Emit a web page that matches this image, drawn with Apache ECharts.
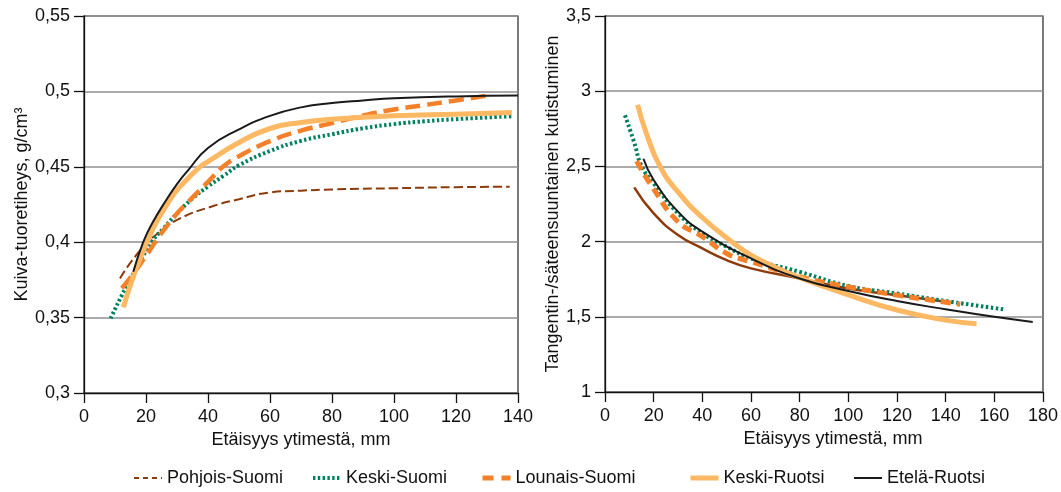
<!DOCTYPE html>
<html><head><meta charset="utf-8">
<script src="https://cdn.jsdelivr.net/npm/echarts@6/dist/echarts.min.js"></script>
<style>html,body{margin:0;padding:0;background:#fff}#c{width:1061px;height:492px}</style>
</head><body><div id="c"></div>
<script>
// ---- data ----
const seriesNames = ['Pohjois-Suomi', 'Keski-Suomi', 'Lounais-Suomi', 'Keski-Ruotsi', 'Etelä-Ruotsi'];
const xTitle = 'Etäisyys ytimestä, mm';
const leftYTitle = 'Kuiva-tuoretiheys, g/cm³';
const rightYTitle = 'Tangentin-/säteensuuntainen kutistuminen';

// left panel: density [distance mm, g/cm3]
const densPohjois = [[11.6,0.376],[18.1,0.3946],[24.5,0.407],[31,0.4158],[41.7,0.424],[50,0.4285],[60,0.433],[70,0.4342],[80,0.435],[100,0.4358],[120,0.4365],[137.3,0.4368]];
const densKeskiSuomi = [[8.6,0.3495],[14.8,0.375],[21.8,0.4],[25.6,0.409],[30,0.419],[35,0.429],[40,0.437],[45,0.444],[50,0.451],[60,0.4605],[70,0.4672],[80,0.4716],[90,0.4755],[100,0.4783],[110,0.4802],[120,0.4816],[138,0.4835]];
const densLounais = [[12.2,0.3694],[15.4,0.3776],[20,0.391],[25,0.406],[30,0.419],[34.2,0.428],[40,0.440],[44.8,0.45],[50,0.457],[60,0.467],[70,0.474],[80,0.479],[90,0.484],[100,0.488],[110,0.491],[120,0.494],[131,0.4975]];
const densKeskiRuotsi = [[12.7,0.3568],[20.2,0.3996],[27.7,0.428],[32,0.439],[37.4,0.45],[40,0.4535],[50,0.4661],[60,0.4754],[70,0.4794],[80,0.4816],[100,0.4838],[120,0.4849],[138,0.486]];
const densEtela = [[15.9,0.3804],[19.1,0.4],[22,0.4125],[26.7,0.4285],[30,0.4385],[33.5,0.4475],[40,0.4625],[50,0.4748],[60,0.4838],[70,0.4894],[80,0.4923],[90,0.494],[100,0.4954],[120,0.4967],[140,0.4972]];

// right panel: shrinkage ratio [distance mm, ratio]
const shrPohjois = [[12,2.361],[20,2.188],[30,2.044],[40,1.955],[50,1.877],[60,1.822],[80,1.755],[100,1.688],[120,1.644],[140,1.60]];
const shrKeskiSuomi = [[8.2,2.84],[12,2.66],[15.1,2.5],[20,2.388],[30,2.188],[40,2.055],[50,1.966],[60,1.888],[80,1.799],[100,1.705],[120,1.655],[140,1.605],[164.4,1.548]];
const shrLounais = [[13,2.535],[19.2,2.369],[30,2.132],[39.7,2.036],[50,1.921],[56.8,1.88],[60,1.866],[80,1.766],[100,1.699],[120,1.644],[146,1.584]];
const shrKeskiRuotsi = [[13.4,2.91],[17,2.72],[22.6,2.5],[30,2.33],[40,2.16],[52,2.0],[60,1.91],[70,1.83],[80,1.76],[100,1.645],[120,1.545],[140,1.478],[152.7,1.453]];
const shrEtela = [[15.8,2.551],[20,2.41],[30,2.199],[40,2.066],[60,1.888],[80,1.755],[100,1.672],[120,1.605],[140,1.55],[160,1.5],[175.8,1.466]];

const leftXTicks = {min: 0, max: 140, interval: 20};
const rightXTicks = {min: 0, max: 180, interval: 20};
const leftYTicks = {min: 0.3, max: 0.55, interval: 0.05};
const rightYTicks = {min: 1, max: 3.5, interval: 0.5};

// ---- styles ----
const FONT = "'Liberation Sans', Arial, sans-serif";
const FS = 18;
const colors = {
  'Pohjois-Suomi': '#8E3B0B',
  'Keski-Suomi': '#00805E',
  'Lounais-Suomi': '#F4812A',
  'Keski-Ruotsi': '#FDB863',
  'Etelä-Ruotsi': '#1a1a1a'
};
const leftStyles = {
  'Pohjois-Suomi': {width: 2, type: [9, 4]},
  'Keski-Suomi': {width: 4, type: [2.4, 2.4]},
  'Lounais-Suomi': {width: 4.5, type: [15, 7]},
  'Keski-Ruotsi': {width: 5, type: 'solid'},
  'Etelä-Ruotsi': {width: 2, type: 'solid'}
};
const rightStyles = {
  'Pohjois-Suomi': {width: 2.5, type: 'solid'},
  'Keski-Suomi': {width: 4, type: [2.5, 2.5]},
  'Lounais-Suomi': {width: 5, type: [10, 6]},
  'Keski-Ruotsi': {width: 5, type: 'solid'},
  'Etelä-Ruotsi': {width: 2, type: 'solid'}
};
const leftData = [densPohjois, densKeskiSuomi, densLounais, densKeskiRuotsi, densEtela];
const rightData = [shrPohjois, shrKeskiSuomi, shrLounais, shrKeskiRuotsi, shrEtela];

function fmt(v) { return String(Math.round(v * 100) / 100).replace('.', ','); }

function xAxis(idx, ticks, extraPad) {
  return {
    type: 'value', gridIndex: idx, min: ticks.min, max: ticks.max, interval: ticks.interval,
    name: xTitle, nameLocation: 'middle', nameGap: 36,
    nameTextStyle: {fontFamily: FONT, fontSize: FS, color: '#111', padding: extraPad || 0},
    axisLine: {show: true, onZero: false, lineStyle: {color: '#111', width: 1.3}},
    axisTick: {show: true, inside: false, length: 10, lineStyle: {color: '#111', width: 1.3}},
    axisLabel: {margin: 15, fontFamily: FONT, fontSize: FS, color: '#111', formatter: fmt},
    splitLine: {show: false}
  };
}
function yAxis(idx, ticks, name, gap) {
  return {
    type: 'value', gridIndex: idx, min: ticks.min, max: ticks.max, interval: ticks.interval,
    name: name, nameLocation: 'middle', nameGap: gap,
    nameTextStyle: {fontFamily: FONT, fontSize: FS, color: '#111'},
    axisLine: {show: true, onZero: false, lineStyle: {color: '#111', width: 1.3}},
    axisTick: {show: true, inside: false, length: 10, lineStyle: {color: '#111', width: 1.3}},
    axisLabel: {margin: 14, fontFamily: FONT, fontSize: FS, color: '#111', formatter: fmt},
    splitLine: {show: true, lineStyle: {color: '#8f8f8f', width: 1.5}}
  };
}

const series = [];
seriesNames.forEach((n, i) => {
  series.push({
    name: n, type: 'line', xAxisIndex: 0, yAxisIndex: 0, data: leftData[i],
    symbol: 'none', smooth: 0.5, z: 2 + i,
    lineStyle: {color: colors[n], width: leftStyles[n].width, type: leftStyles[n].type, cap: 'butt'},
    itemStyle: {color: colors[n]}
  });
});
seriesNames.forEach((n, i) => {
  series.push({
    name: n, type: 'line', xAxisIndex: 1, yAxisIndex: 1, data: rightData[i],
    symbol: 'none', smooth: 0.5, z: 2 + i,
    lineStyle: {color: colors[n], width: rightStyles[n].width, type: rightStyles[n].type, cap: 'butt'},
    itemStyle: {color: colors[n]}
  });
});

const legendPos = [133, 311, 480, 688, 853];
const legendIconStyle = {
  'Pohjois-Suomi': {width: 2, type: [5, 4]},
  'Keski-Suomi': {width: 4, type: [2.4, 2.4]},
  'Lounais-Suomi': {width: 5, type: [11, 8]},
  'Keski-Ruotsi': {width: 5, type: 'solid'},
  'Etelä-Ruotsi': {width: 2, type: 'solid'}
};
const legends = seriesNames.map((n, i) => ({
  data: [n], left: legendPos[i], top: 469, orient: 'horizontal',
  itemWidth: 28, itemHeight: 14, padding: 0,
  selectedMode: false,
  itemStyle: {opacity: 0},
  lineStyle: {width: legendIconStyle[n].width, type: legendIconStyle[n].type, color: colors[n], cap: 'butt'},
  textStyle: {fontFamily: FONT, fontSize: FS, color: '#111'}
}));

const chart = echarts.init(document.getElementById('c'), null, {renderer: 'canvas'});
chart.setOption({
  animation: false,
  backgroundColor: '#fff',
  grid: [
    {left: 84, top: 16, width: 434, height: 377, show: true, borderColor: '#222', borderWidth: 1.2, containLabel: false},
    {left: 605, top: 16, width: 438, height: 376, show: true, borderColor: '#222', borderWidth: 1.2, containLabel: false}
  ],
  xAxis: [xAxis(0, leftXTicks), xAxis(1, rightXTicks, [0, 0, 0, 18])],
  yAxis: [yAxis(0, leftYTicks, leftYTitle, 43), yAxis(1, rightYTicks, rightYTitle, 36)],
  legend: legends,
  series: series
});
</script>
</body></html>
